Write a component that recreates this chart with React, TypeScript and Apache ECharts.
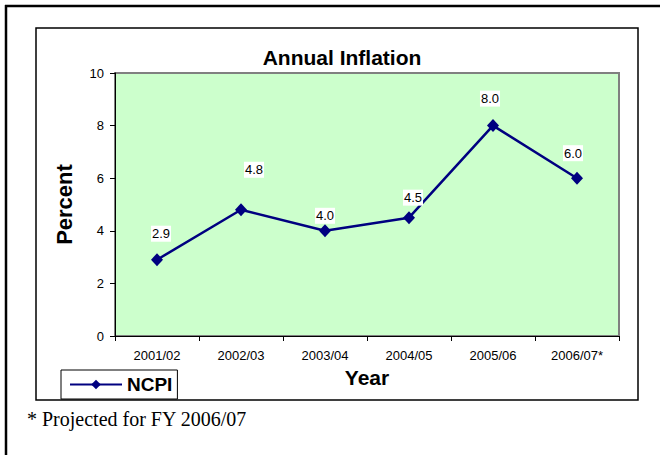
import React, { useEffect, useRef } from "react";
import * as echarts from "echarts";

const categories = ["2001/02", "2002/03", "2003/04", "2004/05", "2005/06", "2006/07*"];
const ncpiValues = [2.9, 4.8, 4.0, 4.5, 8.0, 6.0];
const seriesName = "NCPI";
const chartTitle = "Annual Inflation";
const yAxisTitle = "Percent";
const xAxisTitle = "Year";
const footnote = "* Projected for FY 2006/07";
// label placement tweaks relative to each point (style only)
const labelOffsets = [[4, -26], [13, -40], [0, -15], [4, -20], [-3, -27], [-4, -25]];

export default function App() {
  const ref = useRef<HTMLDivElement>(null);
  useEffect(() => {
    if (!ref.current) return;
    const chart = echarts.init(ref.current, undefined, { renderer: "svg" });
    const font = "Arial, 'Liberation Sans', sans-serif";
    chart.setOption({
      animation: false,
      backgroundColor: "#ffffff",
      title: {
        text: chartTitle,
        left: 337,
        top: 42,
        textAlign: "center",
        textStyle: { fontFamily: font, fontWeight: "bold", fontSize: 21, color: "#000" },
      },
      legend: {
        left: 61,
        top: 370,
        orient: "horizontal",
        backgroundColor: "#ffffff",
        borderColor: "#000000",
        borderWidth: 1,
        padding: [5, 5, 5, 8],
        itemWidth: 52,
        itemHeight: 12,
        itemGap: 0,
        textStyle: { fontFamily: font, fontWeight: "bold", fontSize: 19, color: "#000" },
        data: [seriesName],
      },
      grid: {
        left: 115,
        top: 73,
        right: 41,
        bottom: 119,
        show: true,
        backgroundColor: "#CCFFCC",
        borderColor: "#808080",
        borderWidth: 2,
      },
      xAxis: {
        type: "category",
        data: categories,
        boundaryGap: true,
        name: xAxisTitle,
        nameLocation: "middle",
        nameGap: 30,
        nameTextStyle: { fontFamily: font, fontWeight: "bold", fontSize: 21, color: "#000", verticalAlign: "top" },
        axisLine: { lineStyle: { color: "#000", width: 1 } },
        axisTick: { show: true, alignWithLabel: false, length: 5, inside: false, lineStyle: { color: "#000" } },
        axisLabel: { fontFamily: font, fontSize: 13, color: "#000", margin: 13, interval: 0 },
        splitLine: { show: false },
      },
      yAxis: {
        type: "value",
        min: 0,
        max: 10,
        interval: 2,
        name: yAxisTitle,
        nameLocation: "middle",
        nameGap: 40,
        nameRotate: 90,
        nameTextStyle: { fontFamily: font, fontWeight: "bold", fontSize: 22, color: "#000" },
        axisLine: { show: true, lineStyle: { color: "#000", width: 1 } },
        axisTick: { show: true, length: 5, lineStyle: { color: "#000" } },
        axisLabel: { fontFamily: font, fontSize: 13, color: "#000", margin: 11 },
        splitLine: { show: false },
      },
      series: [
        {
          name: seriesName,
          type: "line",
          data: ncpiValues.map((v, i) => ({
            value: v,
            label: { offset: labelOffsets[i] },
          })),
          symbol: "diamond",
          symbolSize: [12, 13],
          itemStyle: { color: "#000080" },
          lineStyle: { color: "#000080", width: 2.5 },
          label: {
            show: true,
            position: "inside",
            formatter: (p: any) => Number(p.value).toFixed(1),
            fontFamily: font,
            fontSize: 13,
            color: "#000",
            backgroundColor: "#ffffff",
            padding: [2, 1, 1, 1],
          },
        },
      ],
      graphic: [
        { type: "line", shape: { x1: 5, y1: 6, x2: 660, y2: 6 }, style: { stroke: "#000", lineWidth: 2.5 }, z: 10 },
        { type: "line", shape: { x1: 6, y1: 5, x2: 6, y2: 455 }, style: { stroke: "#000", lineWidth: 2.5 }, z: 10 },
        { type: "rect", shape: { x: 36, y: 28, width: 602, height: 372 }, style: { fill: "none", stroke: "#000", lineWidth: 1.5 }, z: -1 },
        {
          type: "text",
          x: 27,
          y: 419,
          style: {
            text: footnote,
            font: "20px 'Liberation Serif', 'Times New Roman', serif",
            fill: "#000",
            textVerticalAlign: "middle",
          },
        },
      ],
    });
    return () => chart.dispose();
  }, []);
  return <div ref={ref} style={{ position: "fixed", left: 0, top: 0, width: 660, height: 455 }} />;
}
